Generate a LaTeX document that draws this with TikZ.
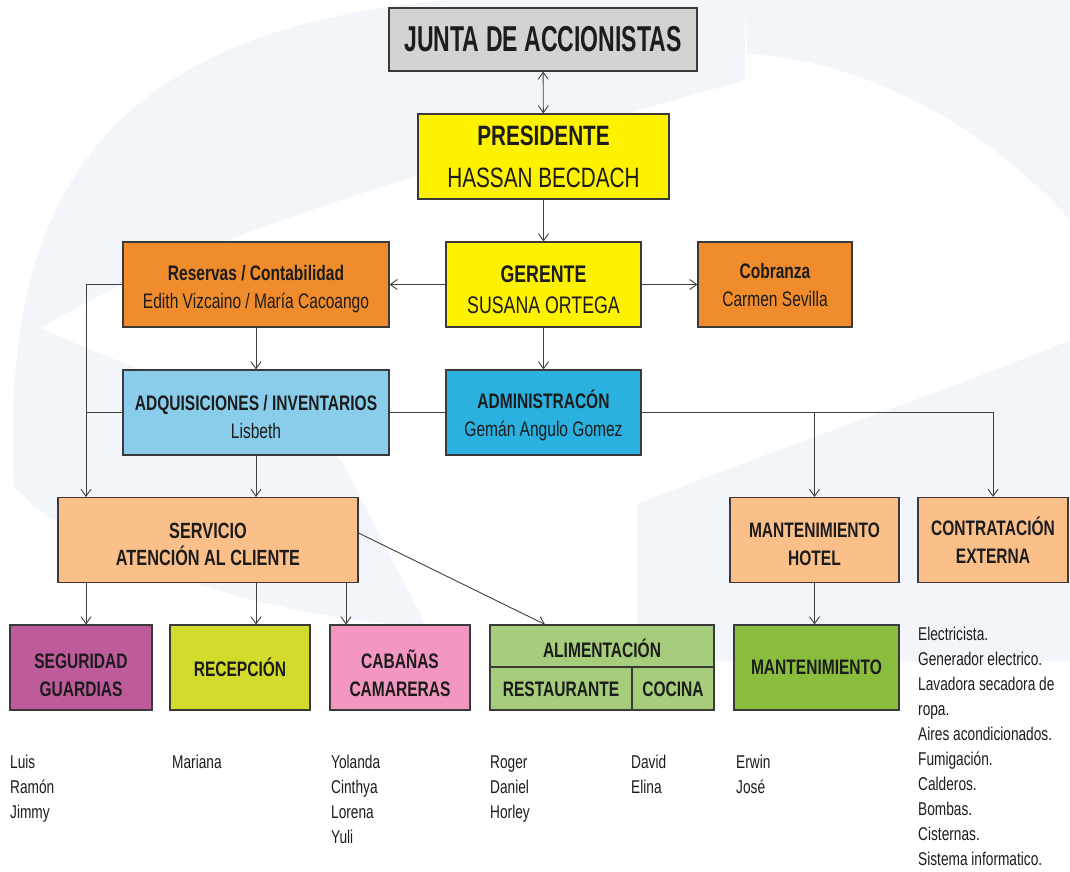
\documentclass[tikz,border=0pt]{standalone}
\usepackage{fontspec}
\setmainfont{Liberation Sans}[FakeStretch=0.74]
\newfontfamily\juntafont{Liberation Sans}[FakeStretch=0.64]
\usetikzlibrary{arrows.meta}
\newcommand\myup[1]{\rule{0pt}{#1pt}}
\definecolor{wm}{HTML}{F2F6FB}
\definecolor{edge}{HTML}{3A3A3A}
\definecolor{lnc}{HTML}{404040}
\definecolor{txt}{HTML}{1C1C1C}
\definecolor{cgray}{HTML}{D3D3D3}
\definecolor{cyellow}{HTML}{FFF200}
\definecolor{corange}{HTML}{F08C2B}
\definecolor{clblue}{HTML}{8ACDEA}
\definecolor{cblue}{HTML}{2AB1E0}
\definecolor{cpeach}{HTML}{FBC08A}
\definecolor{cmag}{HTML}{BE5B9B}
\definecolor{clime}{HTML}{D3DB2C}
\definecolor{cpink}{HTML}{F497C0}
\definecolor{clgreen}{HTML}{A5CD7C}
\definecolor{cgreen}{HTML}{8ABD3E}
\begin{document}
\begin{tikzpicture}[x=1pt,y=-1pt,
  box/.style={draw=edge, line width=1.1pt, inner sep=0pt, align=center, text=txt},
  conn/.style={draw=lnc, line width=0.9pt},
  arr/.style={conn, -{Straight Barb[length=7pt,width=10pt]}},
  darr/.style={conn, {Straight Barb[length=7pt,width=10pt]}-{Straight Barb[length=7pt,width=10pt]}},
  fs/.style={font=\fontsize{21}{28}\selectfont},
  fsb/.style={font=\fontsize{21}{28}\selectfont\bfseries},
  fm/.style={font=\fontsize{24}{31}\selectfont},
  fl/.style={font=\fontsize{28}{42}\selectfont},
  lst/.style={font=\fontsize{18.5}{25}\selectfont, text=txt, inner sep=0pt, anchor=base west},
  wmk/.style={fill=wm, draw=none}]
\useasboundingbox (0,0) rectangle (1070,872);
\fill[white] (0,0) rectangle (1070,872);
% watermark
\path[wmk] (450,0) -- (745,0) -- (745,80) .. controls (500,150) and (200,230) .. (41,328)
  .. controls (150,380) and (280,410) .. (341,460) -- (427,627)
  .. controls (280,620) and (80,560) .. (14,487)
  .. controls (0,200) and (100,30) .. (450,0) -- cycle;
\path[wmk] (745,0) -- (1070,0) -- (1070,220) .. controls (980,120) and (860,60) .. (747,54) -- cycle;
\path[wmk] (637,504) .. controls (800,440) and (950,390) .. (1070,340) -- (1070,661) -- (637,661) -- cycle;
% nodes
\node[box, fill=cgray, minimum width=308pt, minimum height=63pt, font=\juntafont\fontsize{36}{40}\selectfont\bfseries] (junta) at (543,39.5) {JUNTA DE ACCIONISTAS};
\node[box, fill=cyellow, minimum width=251pt, minimum height=85pt, fl] (pres) at (543.5,156.5) {\textbf{PRESIDENTE}\\HASSAN BECDACH};
\node[box, fill=cyellow, minimum width=195pt, minimum height=85pt, fm] (ger) at (543.5,284.5) {\myup{28}\textbf{GERENTE}\\SUSANA ORTEGA};
\node[box, fill=corange, minimum width=266pt, minimum height=85pt, fs] (res) at (256,284.5) {\myup{25}\textbf{Reservas / Contabilidad}\\Edith Vizcaino / María Cacoango};
\node[box, fill=corange, minimum width=154pt, minimum height=85pt, fs] (cob) at (775,284.5) {\textbf{Cobranza}\\Carmen Sevilla};
\node[box, fill=clblue, minimum width=266pt, minimum height=85pt, fs] (adq) at (256,412.5) {\myup{24}\textbf{ADQUISICIONES / INVENTARIOS}\\Lisbeth};
\node[box, fill=cblue, minimum width=195pt, minimum height=85pt, fs] (adm) at (543.5,412.5) {\myup{24}\textbf{ADMINISTRACÓN}\\Gemán Angulo Gomez};
\node[box, fill=cpeach, minimum width=300pt, minimum height=85pt, font=\fontsize{22}{27}\selectfont\bfseries] (serv) at (208,540) {\myup{24}SERVICIO\\ATENCIÓN AL CLIENTE};
\node[box, fill=cpeach, minimum width=169pt, minimum height=85pt, fsb] (mh) at (814.5,540) {\myup{23}MANTENIMIENTO\\HOTEL};
\node[box, fill=cpeach, minimum width=150pt, minimum height=85pt, fsb] (cont) at (993,540) {CONTRATACIÓN\\EXTERNA};
\node[box, fill=cmag, minimum width=142pt, minimum height=85pt, fsb] (seg) at (81,667.5) {\myup{30}SEGURIDAD\\GUARDIAS};
\node[box, fill=clime, minimum width=140pt, minimum height=85pt, fsb] (rec) at (240,667.5) {RECEPCIÓN};
\node[box, fill=cpink, minimum width=140pt, minimum height=85pt, fsb] (cab) at (400,667.5) {\myup{30}CABAÑAS\\CAMARERAS};
\node[box, fill=clgreen, minimum width=224pt, minimum height=85pt] (ali) at (602,667.5) {};
\node[box, fill=cgreen, minimum width=165pt, minimum height=85pt, fsb] (mant) at (816.5,667.5) {MANTENIMIENTO};
\draw[edge, line width=1.1pt] (490,667) -- (714,667) (632,667) -- (632,710);
\node[fsb, text=txt, inner sep=0pt] (alit) at (602,648) {ALIMENTACIÓN};
\node[fsb, text=txt, inner sep=0pt] (alir) at (561,689) {RESTAURANTE};
\node[fsb, text=txt, inner sep=0pt] (alic) at (673,689) {COCINA};
% lists
\foreach \t [count=\i] in {Luis,Ramón,Jimmy}
  \node[lst] (la\i) at (10,{768+25*(\i-1)}) {\t};
\node[lst] (lb1) at (172,768) {Mariana};
\foreach \t [count=\i] in {Yolanda,Cinthya,Lorena,Yuli}
  \node[lst] (lc\i) at (331,{768+25*(\i-1)}) {\t};
\foreach \t [count=\i] in {Roger,Daniel,Horley}
  \node[lst] (ld\i) at (490,{768+25*(\i-1)}) {\t};
\foreach \t [count=\i] in {David,Elina}
  \node[lst] (le\i) at (631,{768+25*(\i-1)}) {\t};
\foreach \t [count=\i] in {Erwin,José}
  \node[lst] (lf\i) at (736,{768+25*(\i-1)}) {\t};
\foreach \t [count=\i] in {Electricista.,Generador electrico.,Lavadora secadora de,ropa.,Aires acondicionados.,Fumigación.,Calderos.,Bombas.,Cisternas.,Sistema informatico.}
  \node[lst] (lg\i) at (918,{640+25.1*(\i-1)}) {\t};
% connectors
\coordinate (bus) at (86,284.5);
\coordinate (cabx) at (346,0);
\draw[darr] (junta) -- (pres);
\draw[arr] (pres) -- (ger);
\draw[arr] (ger) -- (res);
\draw[arr] (ger) -- (cob);
\draw[arr] (ger) -- (adm);
\draw[arr] (res) -- (adq);
\draw[conn] (adq) -- (adm);
\draw[arr] (res.west) -- (bus) -- (serv.north -| bus);
\draw[conn] (adq.west) -- (adq.west -| bus);
\draw[arr] (adq.south) -- (serv.north -| adq.south);
\draw[arr] (adm.east) -- (adm.east -| cont.north) -- (cont.north);
\draw[arr] (adm.east -| mh.north) -- (mh.north);
\draw[arr] (mh.south) -- (mh.south |- mant.north);
\draw[arr] (serv.south -| bus) -- (seg.north -| bus);
\draw[arr] (serv.south -| adq.south) -- (rec.north -| adq.south);
\draw[arr] (serv.south -| cabx) -- (cab.north -| cabx);
\draw[arr] ([yshift=7pt]serv.east) -- ([xshift=-57pt]ali.north);
\end{tikzpicture}
\end{document}
